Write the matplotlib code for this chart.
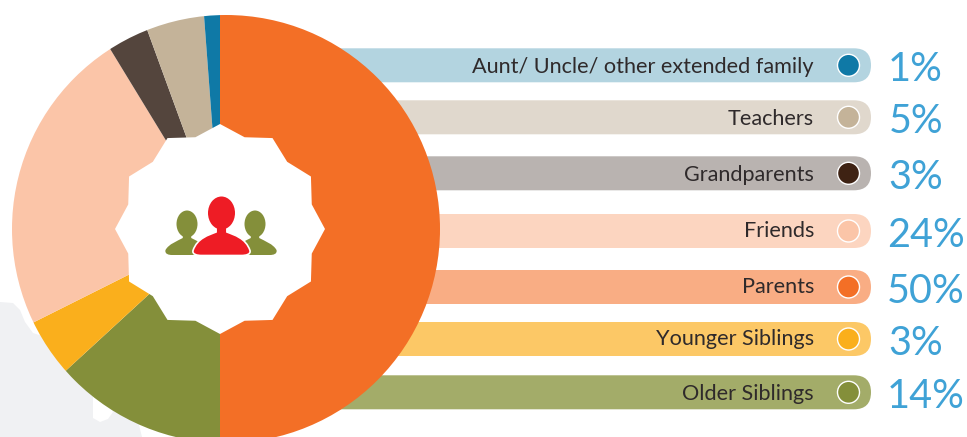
import numpy as np
import matplotlib
matplotlib.use("Agg")
import matplotlib.pyplot as plt
from matplotlib.patches import Circle, Ellipse, FancyBboxPatch, PathPatch, Polygon
from matplotlib.path import Path

W, H = 967, 437

# slices clockwise from the top, shares as drawn in the picture
slice_names = ["Parents", "Older Siblings", "Younger Siblings", "Friends",
               "Grandparents", "Teachers", "Aunt/ Uncle/ other extended family"]
slice_shares = [50, 13.17, 4.44, 23.67, 3.14, 4.39, 1.19]
slice_colors = ["#F36F26", "#848F3A", "#FAAF1C", "#FBC5A8", "#54453D", "#C4B399", "#0F79A6"]

# legend rows, top to bottom
row_labels = ["Aunt/ Uncle/ other extended family", "Teachers", "Grandparents",
              "Friends", "Parents", "Younger Siblings", "Older Siblings"]
row_percents = ["1%", "5%", "3%", "24%", "50%", "3%", "14%"]
bar_colors = ["#B3D4E0", "#E0D8CD", "#B9B3B0", "#FCD5C0", "#F9AD84", "#FCC866", "#A3AC69"]
dot_colors = ["#0F79A6", "#C4B399", "#3E2213", "#FBC5A8", "#F36F26", "#FAAF1C", "#848F3A"]
row_tops = [48.3, 100.3, 156.3, 214, 270, 322, 375.3]
label_nudge = [0, 0, 0, 2, 2, 2, 0]
row_h = 34


def py(y):
    """pixel row of the picture -> y of the axes"""
    return H - y


fig = plt.figure(figsize=(W / 100, H / 100), dpi=100)
ax = fig.add_axes([0, 0, 1, 1])

# pale map blob in the lower left corner, most of its right side sits under the pie
blob = [(0, 302), (13, 303), (20, 310), (25, 322), (33, 333), (70, 345), (125, 405),
        (139, 425), (142, 437), (0, 437)]
ax.add_patch(Polygon([(x, py(y)) for x, y in blob], fc="#F0F1F3", ec="none", zorder=0))
notch = [(93, 396), (93, 418), (100, 422), (108, 419), (113, 412), (105, 395)]
ax.add_patch(Polygon([(x, py(y)) for x, y in notch], fc="white", ec="none", zorder=0.5))

# legend bars run in behind the pie
for i, lab in enumerate(row_labels):
    top = row_tops[i]
    pct = row_percents[i]
    ax.add_patch(FancyBboxPatch((300, py(top + row_h)), 571, row_h, mutation_scale=1,
                                boxstyle="round,pad=0,rounding_size=17",
                                fc=bar_colors[i], ec="none", zorder=1))
    mid = py(top + row_h / 2)
    ax.add_patch(Ellipse((848.5, mid), 22, 22, fc=dot_colors[i], ec="white", lw=1, zorder=2))
    ax.text(814, mid + label_nudge[i], lab, ha="right", va="center_baseline", fontsize=15.6,
            family="Lato", color="#2F2A2B", zorder=3)
    ax.text(965 if len(pct) == 3 else 943, mid - 1, pct, ha="right", va="center_baseline",
            fontsize=28.5, family="Lato", color="#3FA2D6", zorder=3)

# wedges meet under the star, the outline is a circle set a bit to the right of that point
wedges, _ = ax.pie(slice_shares, colors=slice_colors, startangle=90, counterclock=False,
                   center=(220, py(229)), radius=300, wedgeprops=dict(linewidth=0), frame=True)
outline = Circle((226, py(229)), 214, transform=ax.transData)
for w in wedges:
    w.set_zorder(4)
    w.set_clip_on(True)  # pie turns clipping off
    w.set_clip_path(outline)

# 12 point star in the middle
angles = np.deg2rad(np.arange(0, 360, 15))
radii = np.where(np.arange(24) % 2 == 0, 105, 95)
star = np.column_stack([220 + radii * np.sin(angles), py(229) + radii * np.cos(angles)])
ax.add_patch(Polygon(star, fc="white", ec="none", zorder=5))


def person(cx, head_y, head_w, head_h, half, shoulder_y, bottom, color, edge, z):
    """head plus shoulders, sizes in pixels of the picture"""
    neck = head_w * 0.2
    neck_y = head_y + head_h * 0.4
    verts = [(cx - neck, neck_y), (cx - neck, shoulder_y),
             (cx - half * 0.45, shoulder_y + 3), (cx - half * 0.85, shoulder_y + 6), (cx - half, bottom - 5),
             (cx - half - 1, bottom - 1), (cx - half * 0.85, bottom), (cx - half * 0.7, bottom),
             (cx + half * 0.7, bottom),
             (cx + half * 0.85, bottom), (cx + half + 1, bottom - 1), (cx + half, bottom - 5),
             (cx + half * 0.85, shoulder_y + 6), (cx + half * 0.45, shoulder_y + 3), (cx + neck, shoulder_y),
             (cx + neck, neck_y), (cx - neck, neck_y)]
    codes = [Path.MOVETO, Path.LINETO,
             Path.CURVE4, Path.CURVE4, Path.CURVE4,
             Path.CURVE4, Path.CURVE4, Path.CURVE4,
             Path.LINETO,
             Path.CURVE4, Path.CURVE4, Path.CURVE4,
             Path.CURVE4, Path.CURVE4, Path.CURVE4,
             Path.LINETO, Path.CLOSEPOLY]
    body = Path([(x, py(y)) for x, y in verts], codes)
    ax.add_patch(PathPatch(body, fc=color, ec=edge, lw=1.2 if edge != "none" else 0, zorder=z))
    ax.add_patch(Ellipse((cx, py(head_y)), head_w, head_h, fc=color, ec="none", zorder=z + 0.1))


person(187, 224, 21, 27, 21.5, 238, 255, "#848F3A", "none", 6)
person(255, 224, 21, 27, 21.5, 238, 255, "#848F3A", "none", 6)
person(221.5, 213, 27, 33, 28.5, 232, 255.5, "#EE1C25", "white", 7)

ax.set_xlim(0, W)
ax.set_ylim(0, H)
ax.set_aspect("auto")
ax.axis("off")

fig.savefig("out.png", dpi=100, facecolor="white")
